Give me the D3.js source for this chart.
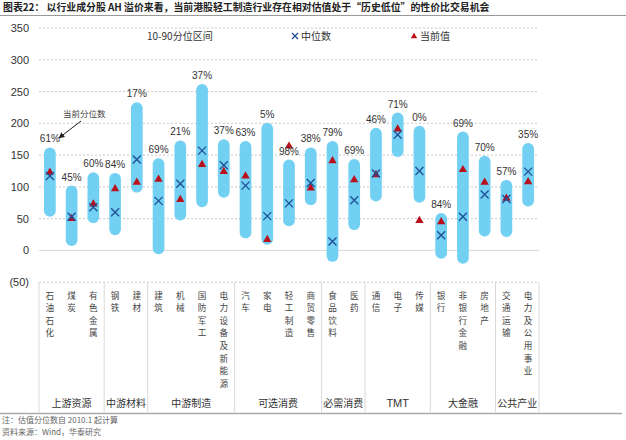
<!DOCTYPE html>
<html><head><meta charset="utf-8">
<script src="https://cdn.jsdelivr.net/npm/d3@7"></script>
<style>body{margin:0;background:#fff}svg{display:block}</style>
</head><body>
<svg id="c" width="626" height="440"></svg>
<script>
const categories = ["石油石化","煤炭","有色金属","钢铁","建材","建筑","机械","国防军工","电力设备及新能源","汽车","家电","轻工制造","商贸零售","食品饮料","医药","通信","电子","传媒","银行","非银行金融","房地产","交通运输","电力及公用事业"];
const p90 = [162,102,123,122,233,145,173,262,175,172,201,143,162,172,144,193,217,196,59,187,149,111,169];
const p10 = [53,7,43,24,91,-6,47,68,83,19,9,38,71,-18,32,77,147,75,-13,-21,22,21,69];
const medians = [117,53,68,60,143,78,105,157,134,102,54,74,106,14,79,121,182,125,24,53,88,81,124];
const currents = [123,50,73,97,107,112,80,135,124,117,17,164,98,141,111,119,191,47,45,127,107,82,108];
const pctLabels = ["61%","45%","60%","84%","17%","69%","21%","37%","37%","63%","5%","98%","38%","79%","69%","46%","71%","0%","84%","69%","70%","57%","35%"];
const groups = [["上游资源",3],["中游材料",2],["中游制造",4],["可选消费",4],["必需消费",2],["TMT",3],["大金融",3],["公共产业",2]];
const yTicks = [-50,0,50,100,150,200,250,300,350];
const legendLabels = ["10-90分位区间","中位数","当前值"];

const svg = d3.select("#c");
const cjk = "'Noto Sans CJK SC','Noto Sans',sans-serif";
const lat = "'Liberation Sans',Arial,sans-serif";
const L = 39, R = 539;
const x = d3.scaleBand().domain(categories).range([L, R]);
const y = d3.scaleLinear().domain([-50, 350]).range([282.2, 28]);

// title
svg.append("text").attr("x", 3).attr("y", 10.5).attr("font-family", cjk).attr("font-size", 9.9).attr("font-weight", "bold").attr("fill", "#222")
  .text("图表22：  以行业成分股 AH 溢价来看，当前港股轻工制造行业存在相对估值处于“历史低位”的性价比交易机会");
svg.append("line").attr("x1", 0).attr("x2", 626).attr("y1", 15.5).attr("y2", 15.5).attr("stroke", "#999").attr("stroke-width", 1);

// grid
yTicks.forEach(t => {
  svg.append("line").attr("x1", L).attr("x2", R).attr("y1", y(t)).attr("y2", y(t))
    .attr("stroke", t === 0 ? "#d9d9d9" : "#c8c8c8").attr("stroke-width", 1)
    .attr("stroke-dasharray", t === 0 ? null : "2,2");
});
const yAxis = d3.axisLeft(y).tickValues(yTicks).tickSize(0).tickPadding(0)
  .tickFormat(d => d < 0 ? `(${-d})` : d);
const ga = svg.append("g").attr("transform", `translate(29,0)`).call(yAxis);
ga.select(".domain").remove();
ga.selectAll("text").attr("font-family", lat).attr("font-size", 11).attr("fill", "#333");

// legend
svg.append("text").attr("x", 147).attr("y", 40).attr("font-family", cjk).attr("font-size", 10).attr("fill", "#333").text(legendLabels[0]);
svg.append("path").attr("d", "M-3,-3L3,3M-3,3L3,-3").attr("transform", "translate(295,36)").attr("stroke", "#1f4e96").attr("stroke-width", 1.3);
svg.append("text").attr("x", 301).attr("y", 40).attr("font-family", cjk).attr("font-size", 10).attr("fill", "#333").text(legendLabels[1]);
svg.append("path").attr("d", d3.symbol(d3.symbolTriangle, 18)()).attr("transform", "translate(414,36.5)").attr("fill", "#c0101a");
svg.append("text").attr("x", 420).attr("y", 40).attr("font-family", cjk).attr("font-size", 10).attr("fill", "#333").text(legendLabels[2]);

const bw = 11.7;
const cx = c => x(c) + x.bandwidth() / 2;
// bars
svg.append("g").selectAll("rect").data(categories).join("rect")
  .attr("x", c => cx(c) - bw / 2).attr("width", bw)
  .attr("y", (c, i) => y(p90[i])).attr("height", (c, i) => y(p10[i]) - y(p90[i]))
  .attr("rx", bw / 2).attr("fill", "#72d0f3");
// current triangles
svg.append("g").selectAll("path").data(categories).join("path")
  .attr("d", d3.symbol(d3.symbolTriangle, 30)())
  .attr("transform", (c, i) => `translate(${cx(c)},${y(currents[i])})`)
  .attr("fill", "#b8101c");
// medians
svg.append("g").selectAll("path").data(categories).join("path")
  .attr("d", "M-4,-4L4,4M-4,4L4,-4")
  .attr("transform", (c, i) => `translate(${cx(c)},${y(medians[i])})`)
  .attr("stroke", "#1f4e96").attr("stroke-width", 1.3).attr("fill", "none");
// pct labels
svg.append("g").selectAll("text").data(categories).join("text")
  .attr("x", cx).attr("y", (c, i) => y(p90[i]) - 5)
  .attr("text-anchor", "middle").attr("font-family", lat).attr("font-size", 10).attr("fill", "#333")
  .text((c, i) => pctLabels[i]);

// annotation
svg.append("defs").append("marker").attr("id", "ah").attr("viewBox", "0 0 10 10").attr("refX", 9).attr("refY", 5)
  .attr("markerWidth", 6).attr("markerHeight", 6).attr("orient", "auto")
  .append("path").attr("d", "M0,0L10,5L0,10z").attr("fill", "#222");
svg.append("text").attr("x", 63).attr("y", 117).attr("font-family", cjk).attr("font-size", 8.5).attr("fill", "#444").text("当前分位数");
svg.append("line").attr("x1", 81).attr("y1", 121).attr("x2", 59).attr("y2", 138).attr("stroke", "#222").attr("stroke-width", 1).attr("marker-end", "url(#ah)");

// category labels: one character per text, stacked vertically
const chars = [];
categories.forEach(c => Array.from(c).forEach((ch, k) => chars.push({ c, ch, k })));
svg.append("g").selectAll("text").data(chars).join("text")
  .attr("x", d => cx(d.c)).attr("y", d => 298.5 + d.k * 12.6)
  .attr("text-anchor", "middle")
  .attr("font-family", cjk).attr("font-size", 8.6).attr("fill", "#444")
  .text(d => d.ch);

// group separators & labels
let idx = 0;
const sepX = [L];
groups.forEach(([name, n]) => {
  const x0 = x(categories[idx]);
  const x1 = x0 + n * x.bandwidth();
  sepX.push(x1);
  svg.append("text").attr("x", (x0 + x1) / 2).attr("y", 407).attr("text-anchor", "middle")
    .attr("font-family", name === "TMT" ? lat : cjk).attr("font-size", name === "TMT" ? 11 : 10).attr("fill", "#333").text(name);
  idx += n;
});
sepX.forEach(sx => {
  svg.append("line").attr("x1", sx).attr("x2", sx).attr("y1", 282.2).attr("y2", 412).attr("stroke", "#d9d9d9").attr("stroke-width", 1);
});

// bottom rule and footer
svg.append("line").attr("x1", 0).attr("x2", 622).attr("y1", 413.5).attr("y2", 413.5).attr("stroke", "#aaa").attr("stroke-width", 1.5);
svg.append("text").attr("x", 2).attr("y", 423).attr("font-family", cjk).attr("font-size", 8).attr("fill", "#666").text("注：估值分位数自 2010.1 起计算");
svg.append("text").attr("x", 2).attr("y", 435).attr("font-family", cjk).attr("font-size", 8).attr("fill", "#666").text("资料来源：Wind，华泰研究");
</script>
</body></html>
